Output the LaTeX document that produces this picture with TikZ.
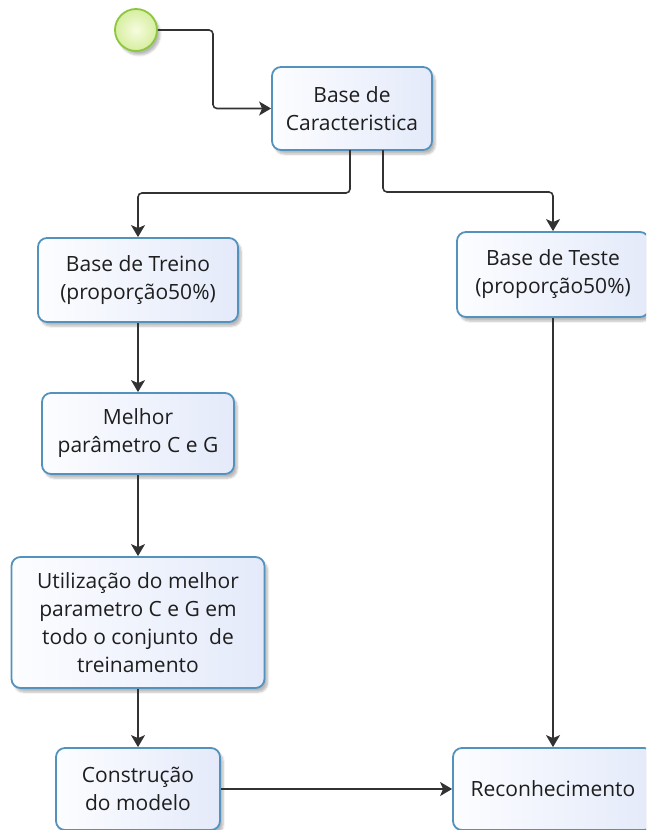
\documentclass[tikz,border=0pt]{standalone}
\usepackage{fontspec}
\setmainfont{Open Sans}
\usetikzlibrary{arrows.meta,shadows.blur,calc}
\definecolor{boxborder}{RGB}{84,146,190}
\definecolor{boxlight}{RGB}{252,253,255}
\definecolor{boxdark}{RGB}{228,234,250}
\definecolor{conncol}{RGB}{50,50,50}
\definecolor{txtcol}{RGB}{30,30,30}
\definecolor{startborder}{RGB}{141,198,63}
\definecolor{startin}{RGB}{246,252,222}
\definecolor{startout}{RGB}{214,238,160}
\tikzset{
  x=1pt,y=1pt,
  task/.style={draw=boxborder, line width=1.8pt, rounded corners=9pt,
    left color=boxlight, right color=boxdark,
    blur shadow={shadow xshift=3pt, shadow yshift=-4pt, shadow opacity=28, shadow blur steps=6},
    align=center, text=txtcol, font=\fontsize{21}{28}\selectfont, inner sep=2pt},
  conn/.style={draw=conncol, line width=1.6pt, rounded corners=4pt,
    -{Stealth[length=12pt,width=14pt,inset=3pt]}},
}
\begin{document}
\begin{tikzpicture}
\useasboundingbox (0,0) rectangle (646,-830);
\clip (0,0) rectangle (646,-830);
\node[circle, minimum size=42pt, inner sep=0pt, draw=startborder, line width=1.8pt,
  inner color=startin, outer color=startout,
  blur shadow={shadow xshift=3pt, shadow yshift=-4pt, shadow opacity=28, shadow blur steps=6}] (start) at (136,-30) {};
\node[task, minimum width=160pt, minimum height=83pt] (car) at (352,-108.5) {Base de\\Caracteristica};
\node[task, minimum width=200pt, minimum height=84pt] (treino) at (138,-280) {Base de Treino\\(proporção50\%)};
\node[task, minimum width=192pt, minimum height=85pt] (teste) at (553,-274.5) {Base de Teste\\(proporção50\%)};
\node[task, minimum width=192pt, minimum height=81pt] (melhor) at (138,-433.5) {Melhor\\parâmetro C e G};
\node[task, minimum width=253pt, minimum height=131pt] (util) at (138,-622.5) {Utilização do melhor\\parametro C e G em\\todo o conjunto\ \ de\\treinamento};
\node[task, minimum width=164pt, minimum height=82pt] (constr) at (138,-789) {Construção\\do modelo};
\node[task, minimum width=200pt, minimum height=82pt] (recon) at (553,-789) {Reconhecimento};
\coordinate (j1) at (213,-30);
\coordinate (j2) at (350,-150);
\coordinate (j3) at (383,-150);
\draw[conn] (start.east) -- (j1) |- (car.west);
\draw[conn] (j2) -- ++(0,-43) -| (treino.north);
\draw[conn] (j3) -- ++(0,-42) -| (teste.north);
\draw[conn] (treino.south) -- (melhor.north);
\draw[conn] (melhor.south) -- (util.north);
\draw[conn] (util.south) -- (constr.north);
\draw[conn] (teste.south) -- (recon.north);
\draw[conn] (constr.east) -- (recon.west);
\end{tikzpicture}
\end{document}
